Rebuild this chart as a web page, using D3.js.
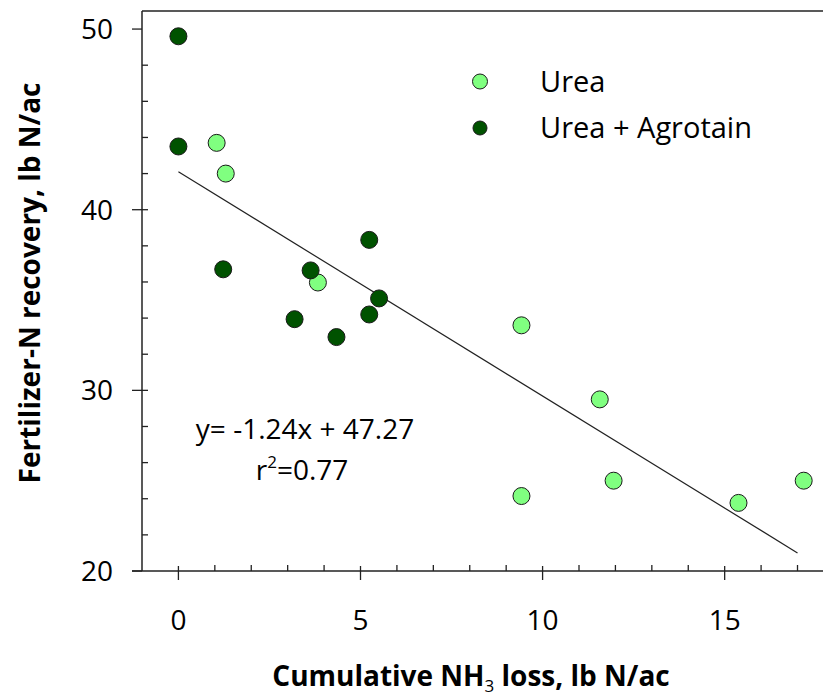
<!DOCTYPE html>
<meta charset="utf-8">
<style>
body { margin: 0; background: #fff; }
text { font-family: "Open Sans", sans-serif; fill: #000; }
.axis-title { font-weight: bold; }
</style>
<body>
<script src="https://cdn.jsdelivr.net/npm/d3@7"></script>
<script>
var width = 823, height = 698;

// data
var ureaX = [1.05, 1.3, 3.83, 9.42, 9.42, 11.57, 11.95, 15.38, 17.17];
var ureaY = [43.7, 42.0, 35.97, 33.6, 24.15, 29.5, 25.0, 23.77, 25.0];
var agroX = [0, 0, 1.23, 3.63, 3.19, 4.34, 5.24, 5.24, 5.51];
var agroY = [49.6, 43.5, 36.7, 36.64, 33.94, 32.95, 38.33, 34.2, 35.09];
var fitX = [0, 17];
var fitY = [42.1, 21.0];
var xTicks = [0, 5, 10, 15];
var yTicks = [20, 30, 40, 50];
var seriesNames = ["Urea", "Urea + Agrotain"];
var equation = "y= -1.24x + 47.27";

var x = d3.scaleLinear().domain([-1, 17.7]).range([142, 823]);
var y = d3.scaleLinear().domain([20, 51]).range([571, 11]);

var svg = d3.select("body").append("svg")
    .attr("width", width)
    .attr("height", height);

svg.append("rect").attr("width", width).attr("height", height).attr("fill", "#fff");

// top frame line
svg.append("path")
    .attr("d", "M" + x(-1) + "," + y(51) + "H" + width)
    .attr("stroke", "#222").attr("stroke-width", 1.5).attr("fill", "none");

// y axis
var yAxis = svg.append("g").attr("transform", "translate(" + x(-1) + ",0)");
yAxis.append("line").attr("y1", y(51)).attr("y2", y(20))
    .attr("stroke", "#222").attr("stroke-width", 1.5);
yAxis.selectAll(".minor")
    .data(d3.range(22, 50, 2).filter(function(d) { return d % 10; }))
  .enter().append("line")
    .attr("y1", function(d) { return y(d); }).attr("y2", function(d) { return y(d); })
    .attr("x1", 0).attr("x2", 6)
    .attr("stroke", "#222").attr("stroke-width", 1.3);
yAxis.selectAll(".major")
    .data(yTicks)
  .enter().append("line")
    .attr("y1", function(d) { return y(d); }).attr("y2", function(d) { return y(d); })
    .attr("x1", -10).attr("x2", function(d) { return d === 20 || d === 50 ? 0 : 6; })
    .attr("stroke", "#222").attr("stroke-width", 1.3);
yAxis.selectAll(".label")
    .data(yTicks)
  .enter().append("text")
    .attr("x", -29).attr("y", function(d) { return y(d); })
    .attr("dy", "0.36em")
    .attr("text-anchor", "end")
    .style("font-size", "28px")
    .text(function(d) { return d; });

// x axis
var xAxis = svg.append("g").attr("transform", "translate(0," + y(20) + ")");
xAxis.append("line").attr("x1", x(-1) - 10).attr("x2", width)
    .attr("stroke", "#222").attr("stroke-width", 1.5);
xAxis.selectAll(".minor")
    .data(d3.range(1, 18).filter(function(d) { return d % 5; }))
  .enter().append("line")
    .attr("x1", function(d) { return x(d); }).attr("x2", function(d) { return x(d); })
    .attr("y1", 0).attr("y2", -6)
    .attr("stroke", "#222").attr("stroke-width", 1.3);
xAxis.selectAll(".major")
    .data(xTicks)
  .enter().append("line")
    .attr("x1", function(d) { return x(d); }).attr("x2", function(d) { return x(d); })
    .attr("y1", -5).attr("y2", 9)
    .attr("stroke", "#222").attr("stroke-width", 1.3);
xAxis.selectAll(".label")
    .data(xTicks)
  .enter().append("text")
    .attr("x", function(d) { return x(d); }).attr("y", 59)
    .attr("text-anchor", "middle")
    .style("font-size", "28px")
    .text(function(d) { return d; });

// axis titles
var xt = svg.append("text")
    .attr("class", "axis-title")
    .attr("x", 471).attr("y", 686)
    .attr("text-anchor", "middle")
    .style("font-size", "28px");
xt.append("tspan").text("Cumulative NH");
xt.append("tspan").attr("dy", 6).style("font-size", "17px").style("font-weight", "normal").text("3");
xt.append("tspan").attr("dy", -6).text(" loss, lb N/ac");

svg.append("text")
    .attr("class", "axis-title")
    .attr("transform", "translate(40,283) rotate(-90)")
    .attr("text-anchor", "middle")
    .style("font-size", "28px")
    .text("Fertilizer-N recovery, lb N/ac");

// regression line
svg.append("path")
    .datum(d3.zip(fitX, fitY))
    .attr("d", d3.line().x(function(d) { return x(d[0]); }).y(function(d) { return y(d[1]); }))
    .attr("stroke", "#222").attr("stroke-width", 1.2).attr("fill", "none");

// points
var colors = ["#80ff80", "#005200"];
svg.selectAll(".urea")
    .data(d3.zip(ureaX, ureaY))
  .enter().append("circle")
    .attr("cx", function(d) { return x(d[0]); })
    .attr("cy", function(d) { return y(d[1]); })
    .attr("r", 8.5)
    .attr("fill", colors[0]).attr("stroke", "#1a1a1a").attr("stroke-width", 1);
svg.selectAll(".agro")
    .data(d3.zip(agroX, agroY))
  .enter().append("circle")
    .attr("cx", function(d) { return x(d[0]); })
    .attr("cy", function(d) { return y(d[1]); })
    .attr("r", 8.5)
    .attr("fill", colors[1]).attr("stroke", "#1a1a1a").attr("stroke-width", 1);

// legend
var legend = svg.append("g");
seriesNames.forEach(function(name, i) {
  legend.append("circle")
      .attr("cx", 480).attr("cy", 81.5 + i * 46.5)
      .attr("r", i === 0 ? 7.5 : 7)
      .attr("fill", colors[i]).attr("stroke", "#1a1a1a").attr("stroke-width", 1);
  legend.append("text")
      .attr("x", 540).attr("y", 81.5 + i * 46.5)
      .attr("dy", "0.36em")
      .style("font-size", "29px")
      .text(name);
});

// equation
svg.append("text")
    .attr("x", 305).attr("y", 439)
    .attr("text-anchor", "middle")
    .style("font-size", "28px")
    .text(equation);
var r2 = svg.append("text")
    .attr("x", 302).attr("y", 480)
    .attr("text-anchor", "middle")
    .style("font-size", "28px");
r2.append("tspan").text("r");
r2.append("tspan").attr("dy", -12).style("font-size", "17px").text("2");
r2.append("tspan").attr("dy", 12).text("=0.77");
</script>
</body>
